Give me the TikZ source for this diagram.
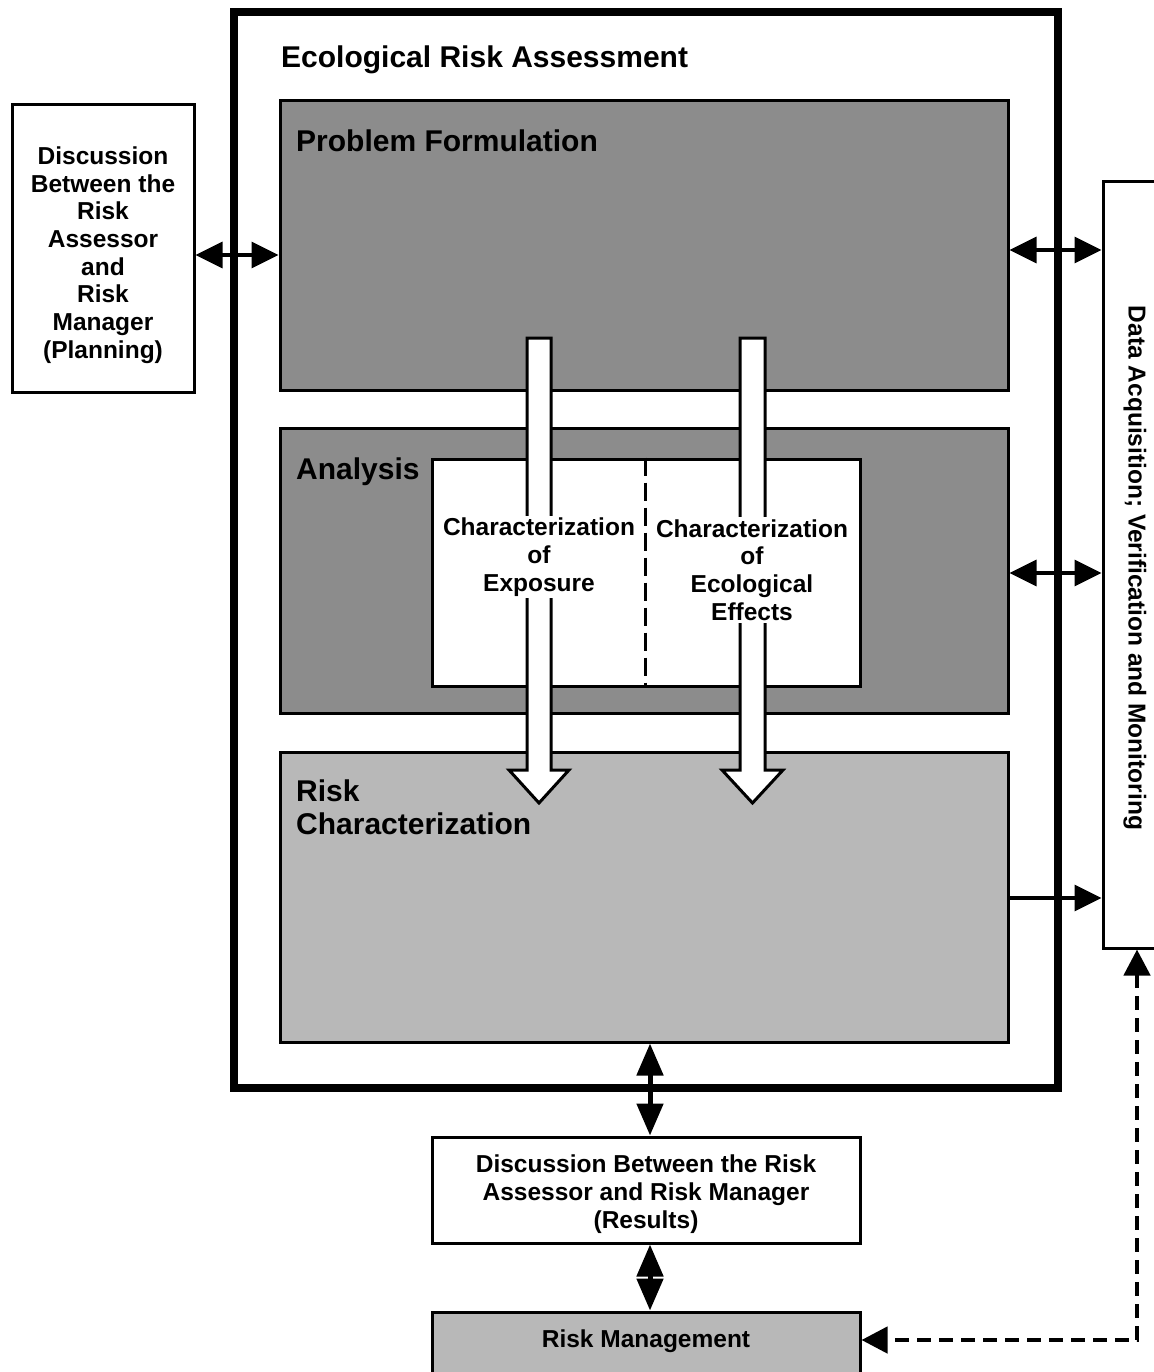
\documentclass[tikz,border=0pt]{standalone}
\usepackage{fontspec}
\setmainfont{Liberation Sans}
\usetikzlibrary{arrows.meta}
\definecolor{dgray}{gray}{0.55}
\definecolor{lgray}{gray}{0.72}
\begin{document}
\begin{tikzpicture}[x=1pt,y=-1pt,
  box/.style={draw=black, line width=3pt, rectangle, inner sep=0pt},
  txt/.style={font=\bfseries\fontsize{24.5}{27.7}\selectfont, align=center, inner sep=2pt},
  bigtxt/.style={font=\bfseries\fontsize{30}{33}\selectfont, align=left, inner sep=0pt},
  conn/.style={line width=3.5pt, -{Triangle[length=27pt,width=26pt]}},
  dconn/.style={line width=3.5pt, {Triangle[length=27pt,width=26pt]}-{Triangle[length=27pt,width=26pt]}},
  vconn/.style={line width=5pt, {Triangle[length=32pt,width=26pt]}-{Triangle[length=32pt,width=26pt]}},
  dashconn/.style={line width=4.5pt, dash pattern=on 14pt off 8pt, {Triangle[length=26pt,width=26pt]}-{Triangle[length=26pt,width=26pt]}},
  blockarrow/.style={draw=black, fill=white, line width=3pt, line join=miter}
]
\fill[white] (0,0) rectangle (1153,1372);
\useasboundingbox (0,0) rectangle (1153,1372);

% outer box
\node[box, line width=8pt, minimum width=824pt, minimum height=1076pt] (era) at (646,550) {};
\node[bigtxt, anchor=base west] (eratitle) at (281,68) {Ecological Risk Assessment};

% planning box
\node[box, minimum width=182pt, minimum height=287pt] (plan) at (103,248.5) {};
\node[txt] (plantxt) at (103,255)
  {Discussion\\Between the\\Risk\\Assessor\\and\\Risk\\Manager\\(Planning)};

% shaded stages
\node[box, fill=dgray, minimum width=728pt, minimum height=289pt] (pf) at (644,245.5) {};
\node[bigtxt, anchor=base west] (pftxt) at (296,152) {Problem Formulation};

\node[box, fill=dgray, minimum width=728pt, minimum height=285pt] (an) at (644,570.5) {};
\node[bigtxt, anchor=base west] (antxt) at (296,479) {Analysis};

\node[box, fill=white, minimum width=428pt, minimum height=227pt] (inner) at (646,572.5) {};
\coordinate (dv) at (645,0);
\draw[line width=3pt, dash pattern=on 18pt off 7pt] (inner.north -| dv) -- (inner.south -| dv);

\node[box, fill=lgray, minimum width=728pt, minimum height=290pt] (rc) at (644,897) {};
\node[bigtxt, anchor=base west] (rctxt) at (296,834) {Risk\\Characterization};

% block arrows
\draw[blockarrow] (527,338) -- (527,770) -- (509,770) -- (539,803) -- (569,770) -- (551,770) -- (551,338) -- cycle;
\draw[blockarrow] (740,338) -- (740,770) -- (722,770) -- (752.5,803) -- (783,770) -- (765,770) -- (765,338) -- cycle;

\node[txt, fill=white] (cexp) at (539,557) {Characterization\\of\\Exposure};
\node[txt, fill=white] (ceff) at (752,570) {Characterization\\of\\Ecological\\Effects};

% data acquisition box
\node[box, minimum width=120pt, minimum height=766pt] (data) at (1163,565) {};
\node[txt, rotate=-90] (datatxt) at (1135,568) {Data Acquisition; Verification and Monitoring};

% results and management
\node[box, minimum width=428pt, minimum height=106pt] (res) at (646,1190) {};
\node[txt] (restxt) at (646,1194)
  {Discussion Between the Risk\\Assessor and Risk Manager\\(Results)};
\node[box, fill=lgray, minimum width=428pt, minimum height=70pt] (rm) at (646,1347) {};
\node[txt] (rmtxt) at (646,1341) {Risk Management};

% connectors
\coordinate (yl) at (0,255);
\coordinate (y1) at (0,250);
\coordinate (y2) at (0,573);
\coordinate (y3) at (0,898);
\coordinate (xb) at (650,0);
\coordinate (xd) at (1137,0);
\coordinate (yd) at (0,1340);

\draw[dconn] (plan.east |- yl) -- (pf.west |- yl);
\draw[dconn] (pf.east |- y1) -- (data.west |- y1);
\draw[dconn] (an.east |- y2) -- (data.west |- y2);
\draw[conn] (rc.east |- y3) -- (data.west |- y3);
\draw[vconn] (rc.south -| xb) -- (res.north -| xb);
\draw[vconn] (res.south -| xb) -- (rm.north -| xb);
\draw[dashconn, line join=miter] (data.south -| xd) -- (xd |- yd) -- (rm.east |- yd);
\end{tikzpicture}
\end{document}
